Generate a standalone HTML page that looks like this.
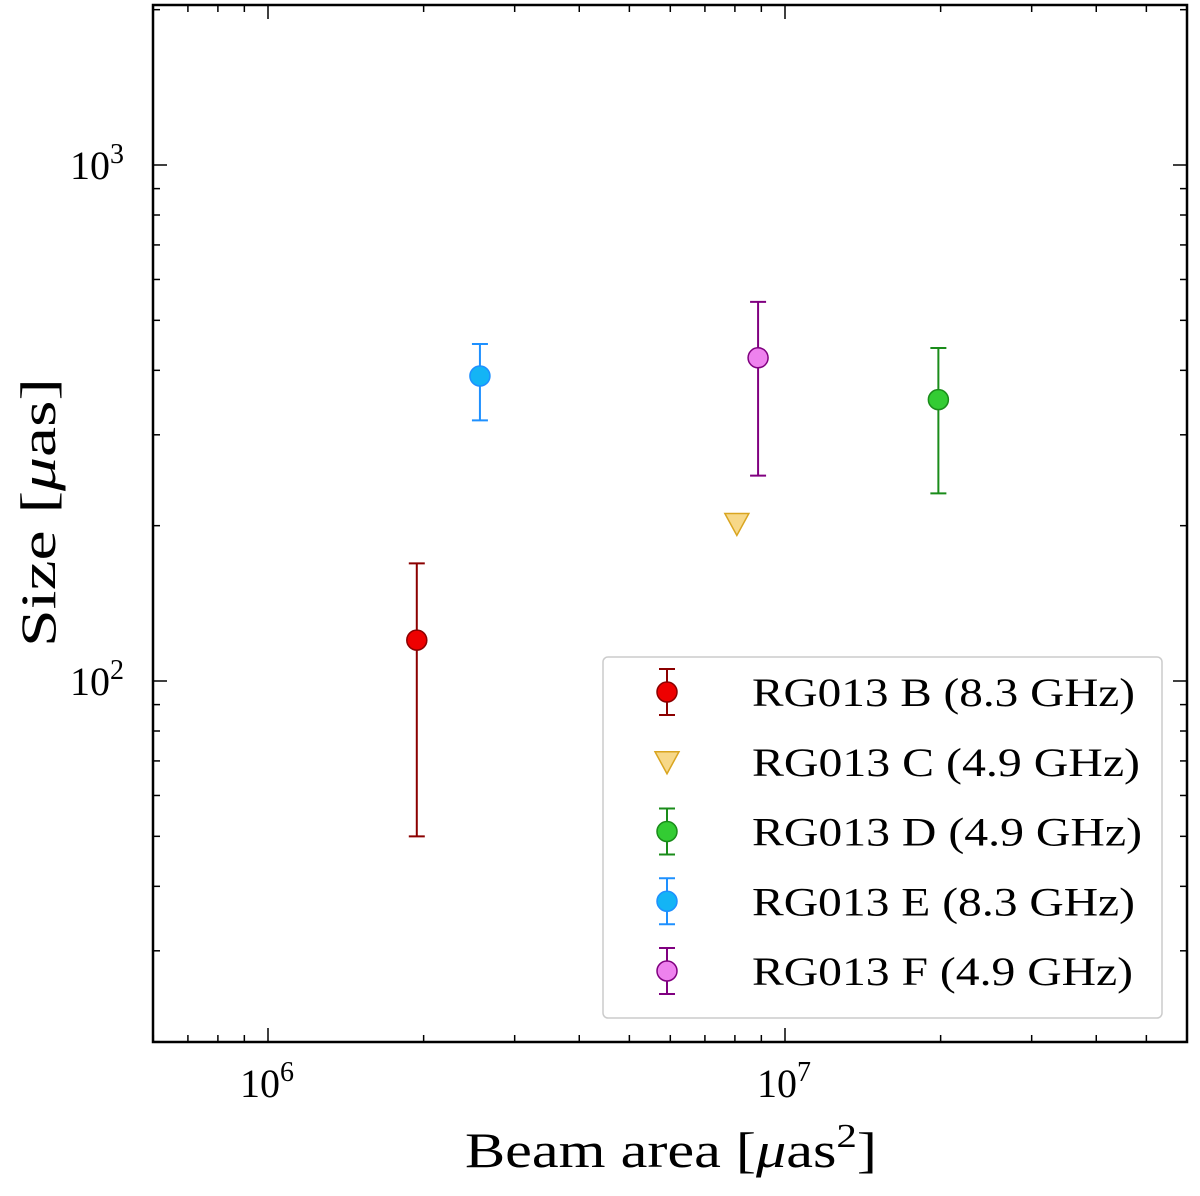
<!DOCTYPE html>
<html><head><meta charset="utf-8"><style>
html,body{margin:0;padding:0;background:#fff;}
svg text{font-family:"Liberation Serif",serif;fill:#000;}
</style></head><body>
<svg id="chart" width="1200" height="1191" xmlns="http://www.w3.org/2000/svg"></svg>
<script>
const names = ["RG013 B (8.3 GHz)","RG013 C (4.9 GHz)","RG013 D (4.9 GHz)","RG013 E (8.3 GHz)","RG013 F (4.9 GHz)"];
const beamArea = [1.94e6, 8.07e6, 1.98e7, 2.57e6, 8.87e6];
const sizeVal = [120, 202, 351, 390, 423];
const sizeHi = [169, null, 442, 450, 543];
const sizeLo = [50, null, 231, 320, 250];
const fills = ["#ee0000","#f7d888","#33cc33","#14b4f5","#ee82ee"];
const edges = ["#8b0000","#d9a520","#1a8c1a","#1e90ff","#800080"];
const markers = ["o","v","o","o","o"];
const legendWidths = [383,388,390,383,381];

const L=153,R=1187,T=5,B=1042;
function X(v){return 268+(Math.log10(v)-6)*517;}
function Y(v){return 681-(Math.log10(v)-2)*516;}
const svg=document.getElementById('chart');
const NS="http://www.w3.org/2000/svg";
function mk(t,a,p){const e=document.createElementNS(NS,t);for(const k in a)e.setAttribute(k,a[k]);(p||svg).appendChild(e);return e;}

const tg=mk('g',{});


for(let d=5;d<=7;d++)for(let m=1;m<10;m++){const v=m*Math.pow(10,d);const x=X(v);if(x<L||x>R)continue;const len=m==1?14:7;
 mk('line',{x1:x,x2:x,y1:B,y2:B-len,stroke:'#000','stroke-width':1.5},tg);mk('line',{x1:x,x2:x,y1:T,y2:T+len,stroke:'#000','stroke-width':1.5},tg);}
for(let d=1;d<=3;d++)for(let m=1;m<10;m++){const v=m*Math.pow(10,d);const y=Y(v);if(y<T||y>B)continue;const len=m==1?14:7;
 mk('line',{y1:y,y2:y,x1:L,x2:L+len,stroke:'#000','stroke-width':1.5},tg);mk('line',{y1:y,y2:y,x1:R,x2:R-len,stroke:'#000','stroke-width':1.5},tg);}
const fr=mk('rect',{x:L,y:T,width:R-L,height:B-T,fill:'none',stroke:'#000','stroke-width':2.5});



const xt=[[1e6,"6"],[1e7,"7"]];
xt.forEach(([v,e])=>{const t=mk('text',{x:X(v)-28,y:1097,'font-size':40});t.innerHTML='10<tspan dy="-16" font-size="28">'+e+'</tspan>';
 
 });
const yt=[[1e3,"3"],[1e2,"2"]];
yt.forEach(([v,e])=>{const t=mk('text',{x:70,y:Y(v)+14,'font-size':40});t.innerHTML='10<tspan dy="-16" font-size="28">'+e+'</tspan>';
 
 });
const xl=mk('text',{x:465,y:1167,'font-size':50,textLength:412,lengthAdjust:'spacingAndGlyphs'});xl.innerHTML='Beam area [<tspan font-style="italic">μ</tspan>as<tspan dy="-20" font-size="34">2</tspan><tspan dy="20">]</tspan>';


const yl=mk('text',{x:0,y:0,'font-size':50,textLength:269,lengthAdjust:'spacingAndGlyphs',transform:'translate(55,647) rotate(-90)'});yl.innerHTML='Size [<tspan font-style="italic">μ</tspan>as]';



function marker(g,type,cx,cy,f,e,r){
 if(type=='v'){mk('polygon',{points:`${cx-12},${cy-10} ${cx+12},${cy-10} ${cx},${cy+12}`,fill:f,stroke:e,'stroke-width':1.5},g);}
 else mk('circle',{cx:cx,cy:cy,r:r||10,fill:f,stroke:e,'stroke-width':1.5},g);
}
function errbar(g,x,y1,y2,e){mk('line',{x1:x,x2:x,y1:y1,y2:y2,stroke:e,'stroke-width':2},g);
 mk('line',{x1:x-8,x2:x+8,y1:y1,y2:y1,stroke:e,'stroke-width':2},g);mk('line',{x1:x-8,x2:x+8,y1:y2,y2:y2,stroke:e,'stroke-width':2},g);}

for(let i=0;i<names.length;i++){
 const g=mk('g',{});
 
 
 const x=X(beamArea[i]),y=Y(sizeVal[i]);
 if(sizeHi[i]!==null)errbar(g,x,Y(sizeHi[i]),Y(sizeLo[i]),edges[i]);
 marker(g,markers[i],x,y,fills[i],edges[i]);
}
const lg=mk('g',{});


mk('rect',{x:603,y:657,width:559,height:361,rx:5,fill:'#fff','fill-opacity':0.85,stroke:'#ccc','stroke-width':1.5},lg);
for(let i=0;i<names.length;i++){
 const ly=692+i*69.75;
 const g=mk('g',{},lg);
 
 
 if(sizeHi[i]!==null)errbar(g,667,ly-23,ly+23,edges[i]);
 marker(g,markers[i],667,ly,fills[i],edges[i]);
 const t=mk('text',{x:752,y:ly+14,'font-size':40,textLength:legendWidths[i],lengthAdjust:'spacingAndGlyphs'},g);t.textContent=names[i];
}
</script>
</body></html>
